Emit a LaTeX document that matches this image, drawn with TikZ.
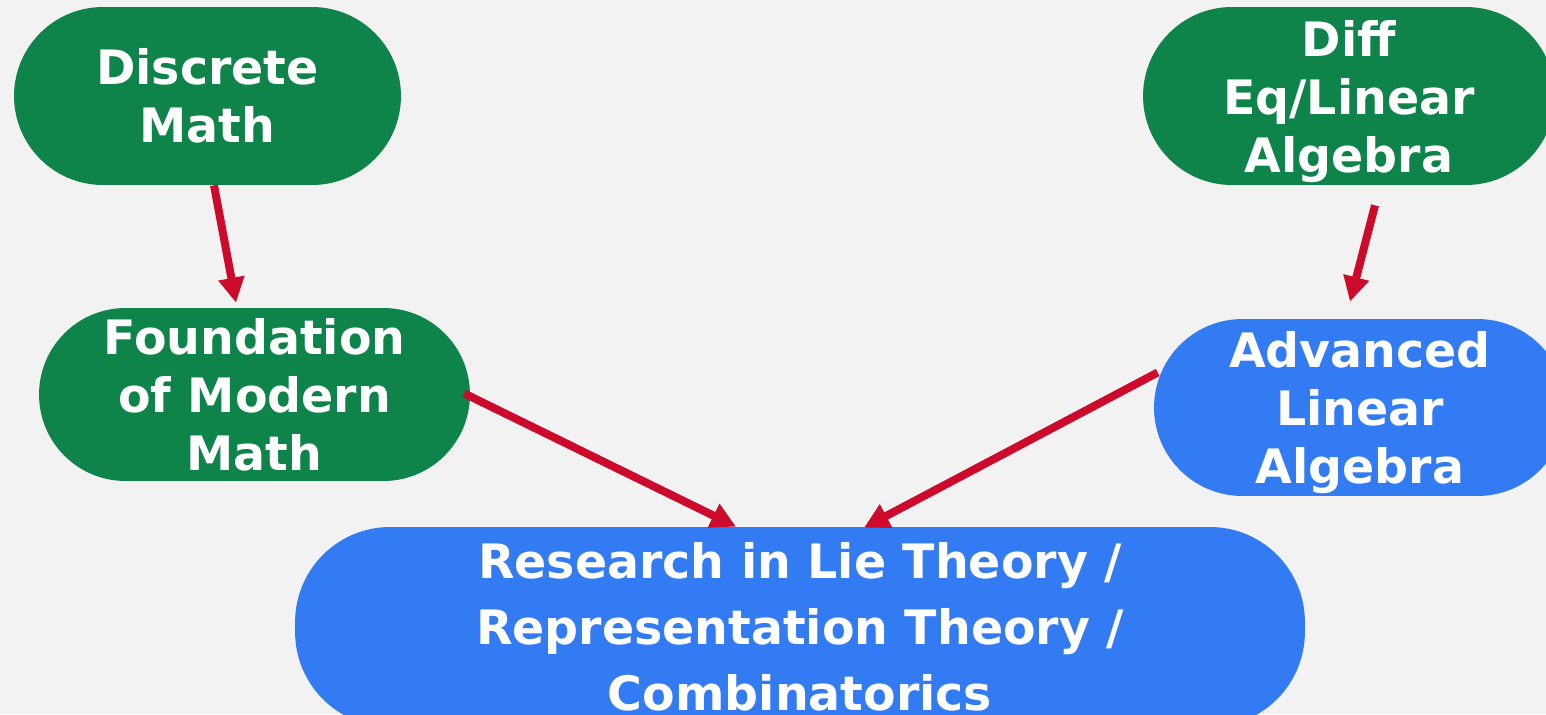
\documentclass[tikz,border=0pt]{standalone}
\usepackage{fontspec}
\setmainfont{DejaVu Sans}
\usetikzlibrary{arrows.meta,calc}
\definecolor{bgcol}{HTML}{F2F2F2}
\definecolor{greenfill}{RGB}{14,131,74}
\definecolor{bluefill}{RGB}{51,123,243}
\definecolor{linkred}{RGB}{204,10,44}
\begin{document}
\begin{tikzpicture}[x=0.02cm, y=-0.02cm,
  course/.style={text=white, align=center, inner sep=0pt,
    font=\fontsize{27}{33}\selectfont\bfseries},
  greenbox/.style={course, fill=greenfill},
  bluebox/.style={course, fill=bluefill},
  link/.style={draw=linkred, line width=0.16cm,
    -{Triangle[length=0.5cm, width=0.5cm]}}]
  % Canvas (1 unit = 1 px of the 1546 x 714 sketch, y pointing down)
  \fill[bgcol] (0,0) rectangle (1546,714);
  \useasboundingbox (0,0) rectangle (1546,714);
  \clip (0,0) rectangle (1546,714);
  % Prerequisite courses (green)
  \node[greenbox, minimum width=7.74cm, minimum height=3.56cm,
    rounded corners=1.78cm] (disc) at (207.5,96) {Discrete\\Math};
  \node[greenbox, minimum width=8.24cm, minimum height=3.56cm,
    rounded corners=1.78cm, text depth=0pt] (diff) at (1349,96)
    {Diff\\Eq/Linear\\Algebra};
  \node[greenbox, minimum width=8.62cm, minimum height=3.46cm,
    rounded corners=1.73cm] (found) at (254.5,394.5)
    {Foundation\\of Modern\\Math};
  % Later courses (blue)
  \node[bluebox, minimum width=8.24cm, minimum height=3.54cm,
    rounded corners=1.77cm, text depth=0pt] (adv) at (1360,407.5)
    {Advanced\\Linear\\Algebra};
  \node[bluebox, minimum width=20.2cm, minimum height=4.0cm,
    rounded corners=1.9cm, font=\fontsize{27}{37.5}\selectfont\bfseries]
    (res) at (800,627)
    {Research in Lie Theory /\\Representation Theory /\\Combinatorics};
  % Prerequisite arrows
  \draw[link] ($(disc.south)+(6.5,0)$) -- ($(found.north)+(-18.5,-5)$);
  \draw[link] ($(diff.south)+(26,20)$) -- ($(adv.north)+(-10,-17)$);
  \draw[link] ($(found.east)+(-6,-1)$) -- ($(res.north)+(-64,0)$);
  \draw[link] ($(adv.west)+(4,-35)$) -- ($(res.north)+(64,1)$);
\end{tikzpicture}
\end{document}
